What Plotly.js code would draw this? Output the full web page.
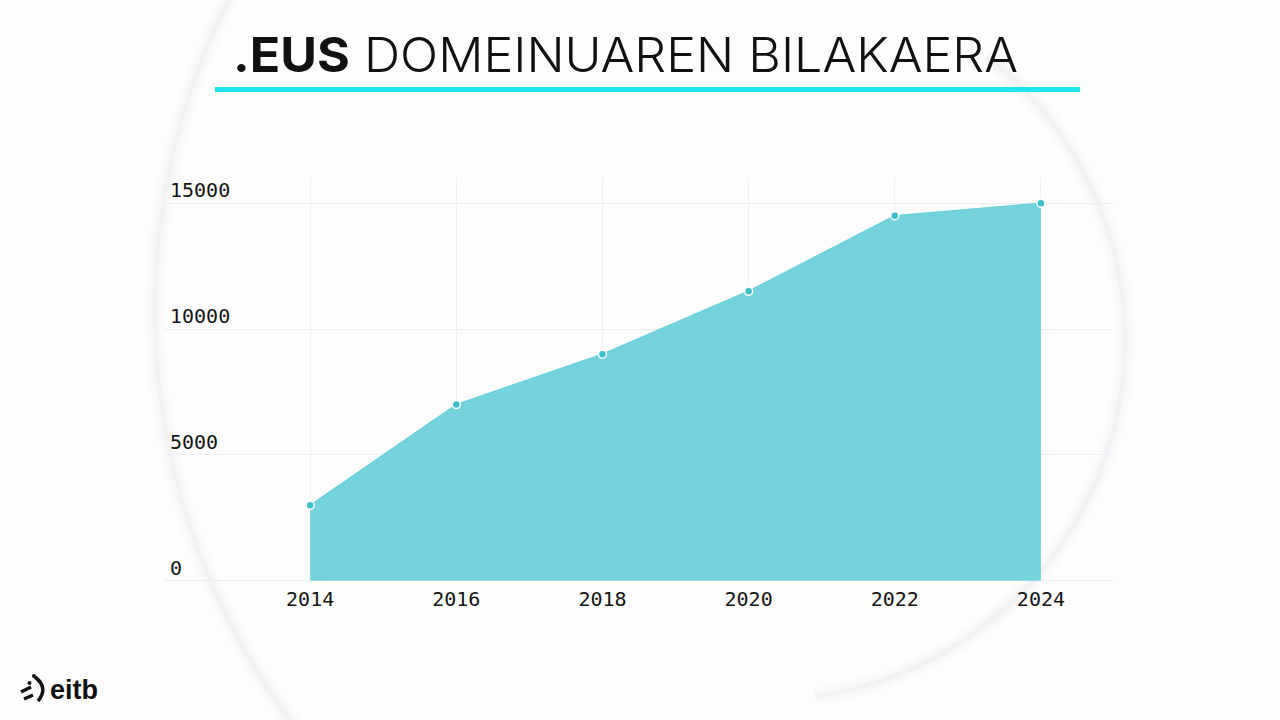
<!DOCTYPE html>
<html>
<head>
<meta charset="utf-8">
<script src="https://cdn.plot.ly/plotly-3.0.1.min.js"></script>
<style>html,body{margin:0;padding:0;background:#fdfdfe;}#chart{width:1280px;height:720px;}</style>
</head>
<body>
<div id="chart"></div>
<script>
// Data
const years = [2014, 2016, 2018, 2020, 2022, 2024];
const domains = [3000, 7000, 9000, 11500, 14500, 15000];
const yTicks = [0, 5000, 10000, 15000];
const titleBold = ".EUS";
const titleRest = "DOMEINUAREN BILAKAERA";

const W = 1280, H = 720;
const L = 164, R = 166, T = 178, B = 139;
const PW = W - L - R, PH = H - T - B;
const px = v => (v - L) / PW;
const py = v => (H - B - v) / PH;

// soft background arcs (decoration)
function arcPath(cx, cy, r, a0, a1) {
  let d = '';
  const n = 60;
  for (let i = 0; i <= n; i++) {
    const a = (a0 + (a1 - a0) * i / n) * Math.PI / 180;
    const X = px(cx + r * Math.cos(a)), Yv = py(cy + r * Math.sin(a));
    d += (i === 0 ? 'M ' : ' L ') + X + ' ' + Yv;
  }
  return d;
}

const trace = {
  x: years, y: domains, type: 'scatter', mode: 'lines+markers',
  fill: 'tozeroy', fillcolor: '#74d3dc',
  line: {color: '#6dd1db', width: 1.5},
  marker: {size: 8, color: '#3cc0cc', line: {color: '#ffffff', width: 1.5}},
  hoverinfo: 'x+y'
};

const gridC = '#f0eef5';
const tickFont = {family: 'DejaVu Sans Mono, Liberation Mono, monospace', size: 20, color: '#151515'};

const arcs = [];
[[18, '#fafafb'], [9, '#f6f6f8'], [3, '#f1f1f4']].forEach(([w, c]) => {
  arcs.push({type: 'path', xref: 'paper', yref: 'paper', layer: 'below',
    path: arcPath(845, 310, 690, 143, 209), line: {color: c, width: w}});
  arcs.push({type: 'path', xref: 'paper', yref: 'paper', layer: 'below',
    path: arcPath(765, 340, 360, -52, 82), line: {color: c, width: w}});
});

const layout = {
  width: W, height: H,
  margin: {l: L, r: R, t: T, b: B, pad: 0},
  paper_bgcolor: '#fdfdfe',
  plot_bgcolor: 'rgba(0,0,0,0)',
  showlegend: false,
  title: {
    text: '<b>' + titleBold + '</b> ' + titleRest,
    xref: 'container', yref: 'container',
    x: 233 / W, xanchor: 'left', y: 1 - 55 / H, yanchor: 'middle',
    font: {family: 'Inter, Roboto, sans-serif', size: 48, color: '#111111', weight: 300}
  },
  xaxis: {
    range: [2012, 2025], tickvals: years, ticktext: years.map(String),
    showgrid: true, gridcolor: gridC, gridwidth: 1,
    zeroline: false, showline: false, ticks: '',
    tickfont: tickFont, ticklabelstandoff: 4, fixedrange: true
  },
  yaxis: {
    range: [-8, 16000], tickvals: yTicks, ticktext: yTicks.map(String),
    showgrid: true, gridcolor: gridC, gridwidth: 1,
    zeroline: true, zerolinecolor: gridC, zerolinewidth: 1,
    showline: false, ticks: '',
    ticklabelposition: 'inside', ticklabelshift: -13, ticklabelstandoff: 3,
    tickfont: tickFont, fixedrange: true
  },
  shapes: arcs.concat([
    {type: 'rect', xref: 'paper', yref: 'paper', layer: 'above',
     x0: px(215), x1: px(1080), y0: py(92), y1: py(87),
     fillcolor: '#22e4ec', line: {width: 0}},
    // eitb logo mark
    {type: 'path', xref: 'paper', yref: 'paper',
     path: `M ${px(35)} ${py(677)} Q ${px(49)} ${py(688)} ${px(38)} ${py(701)}`,
     line: {color: '#111', width: 3.5}},
    {type: 'line', xref: 'paper', yref: 'paper', x0: px(21), y0: py(692), x1: px(31), y1: py(687), line: {color: '#111', width: 3.5}},
    {type: 'line', xref: 'paper', yref: 'paper', x0: px(24), y0: py(699), x1: px(33), y1: py(695), line: {color: '#111', width: 3.5}},
    {type: 'circle', xref: 'paper', yref: 'paper', x0: px(27.5), x1: px(31.5), y0: py(685), y1: py(681), fillcolor: '#111', line: {width: 0}},
    {type: 'circle', xref: 'paper', yref: 'paper', x0: px(32), x1: px(36), y0: py(678), y1: py(674), fillcolor: '#111', line: {width: 0}}
  ]),
  annotations: [
    {text: '<b>eitb</b>', xref: 'paper', yref: 'paper', x: px(48), y: py(690),
     xanchor: 'left', yanchor: 'middle', showarrow: false,
     font: {family: 'Liberation Sans, Arial, sans-serif', size: 27, color: '#111'}}
  ]
};

Plotly.newPlot('chart', [trace], layout, {displayModeBar: false}).then(gd => {
  const t = gd.querySelector('.gtitle');
  if (t) {
    const bb = t.getBBox();
    const target = 1018 - 233;
    if (Math.abs(bb.width - target) > 3) {
      t.setAttribute('textLength', target);
      t.setAttribute('lengthAdjust', 'spacingAndGlyphs');
    }
  }
});
</script>
</body>
</html>
